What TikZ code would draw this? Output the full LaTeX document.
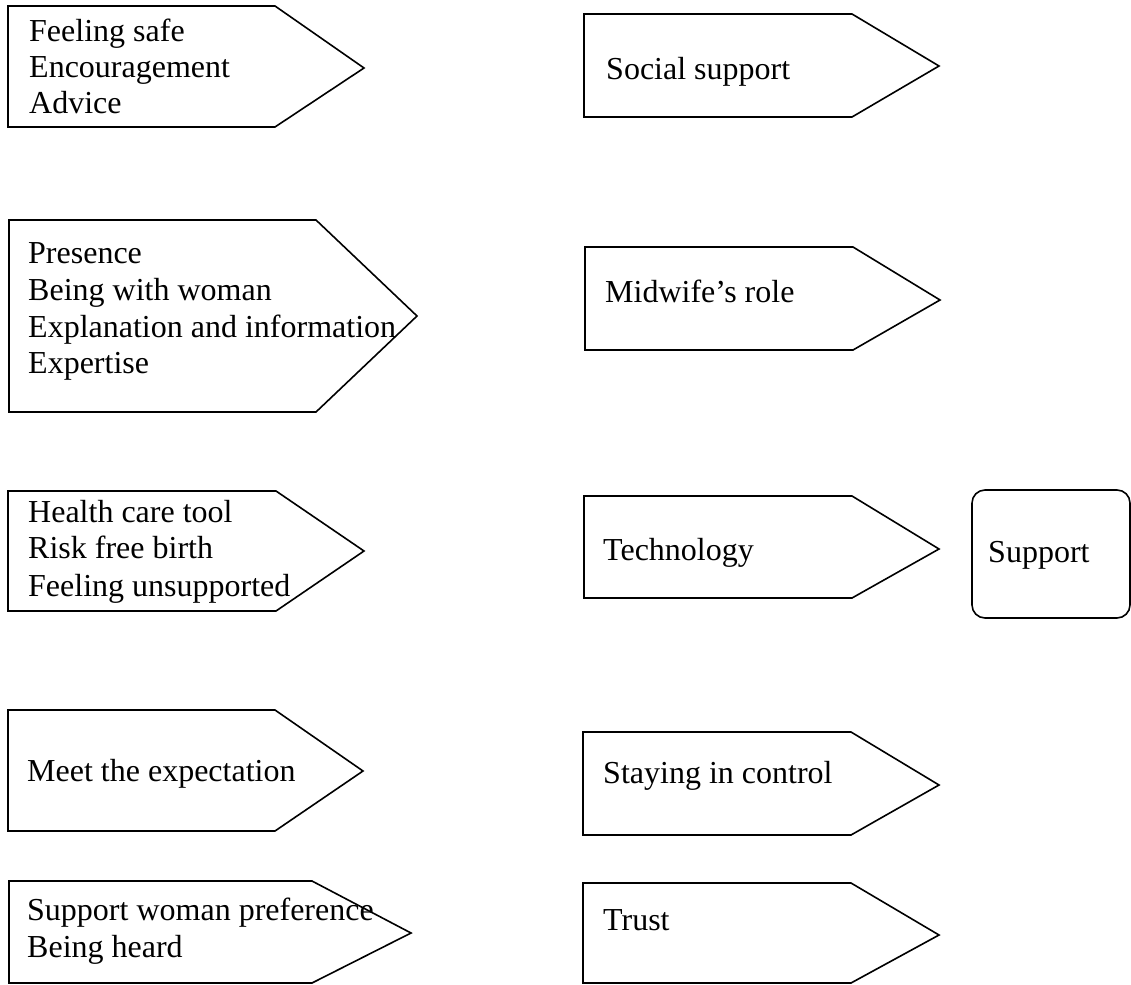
\documentclass[tikz,border=0pt]{standalone}
\usepackage{fontspec}
\setmainfont{Liberation Serif}
\begin{document}
\begin{tikzpicture}[x=1pt,y=-1pt,
  arrowshape/.style={draw=black,line width=1.6pt,line join=miter},
  lbl/.style={anchor=base west,inner sep=0pt,font=\fontsize{32}{38}\selectfont}]
\useasboundingbox (0,0) rectangle (1131,984);
% left column
\draw[arrowshape] (8,6) -- (275,6) -- (364,68) -- (275,127) -- (8,127) -- cycle;
\node[lbl] (a1) at (29,42) {Feeling safe};
\node[lbl] (a2) at (29,78) {Encouragement};
\node[lbl] (a3) at (29,114) {Advice};
\draw[arrowshape] (9,220) -- (316,220) -- (417,316) -- (316,412) -- (9,412) -- cycle;
\node[lbl] (b1) at (28,263) {Presence};
\node[lbl] (b2) at (28,300) {Being with woman};
\node[lbl] (b3) at (28,337) {Explanation and information};
\node[lbl] (b4) at (28,373) {Expertise};
\draw[arrowshape] (8,491) -- (276,491) -- (364,551) -- (276,611) -- (8,611) -- cycle;
\node[lbl] (c1) at (28,522) {Health care tool};
\node[lbl] (c2) at (28,558) {Risk free birth};
\node[lbl] (c3) at (28,596) {Feeling unsupported};
\draw[arrowshape] (8,710) -- (275,710) -- (363,771) -- (275,831) -- (8,831) -- cycle;
\node[lbl] (d1) at (27,781) {Meet the expectation};
\draw[arrowshape] (9,881) -- (312,881) -- (411,933) -- (312,983) -- (9,983) -- cycle;
\node[lbl] (e1) at (27,920) {Support woman preference};
\node[lbl] (e2) at (27,957) {Being heard};
% right column
\draw[arrowshape] (584,14) -- (852,14) -- (939,66) -- (852,117) -- (584,117) -- cycle;
\node[lbl] (f1) at (606,80) {Social support};
\draw[arrowshape] (585,247) -- (853,247) -- (940,300) -- (853,350) -- (585,350) -- cycle;
\node[lbl] (g1) at (605,302) {Midwife’s role};
\draw[arrowshape] (584,496) -- (852,496) -- (939,549) -- (852,598) -- (584,598) -- cycle;
\node[lbl] (h1) at (603,560) {Technology};
\draw[arrowshape] (583,732) -- (851,732) -- (939,785) -- (851,835) -- (583,835) -- cycle;
\node[lbl] (i1) at (603,783) {Staying in control};
\draw[arrowshape] (583,883) -- (851,883) -- (939,935) -- (851,983) -- (583,983) -- cycle;
\node[lbl] (j1) at (603,930) {Trust};
% support box
\draw[line width=1.6pt,rounded corners=13pt] (972,490) rectangle (1130,618);
\node[lbl] (k1) at (988,562) {Support};
\end{tikzpicture}
\end{document}
